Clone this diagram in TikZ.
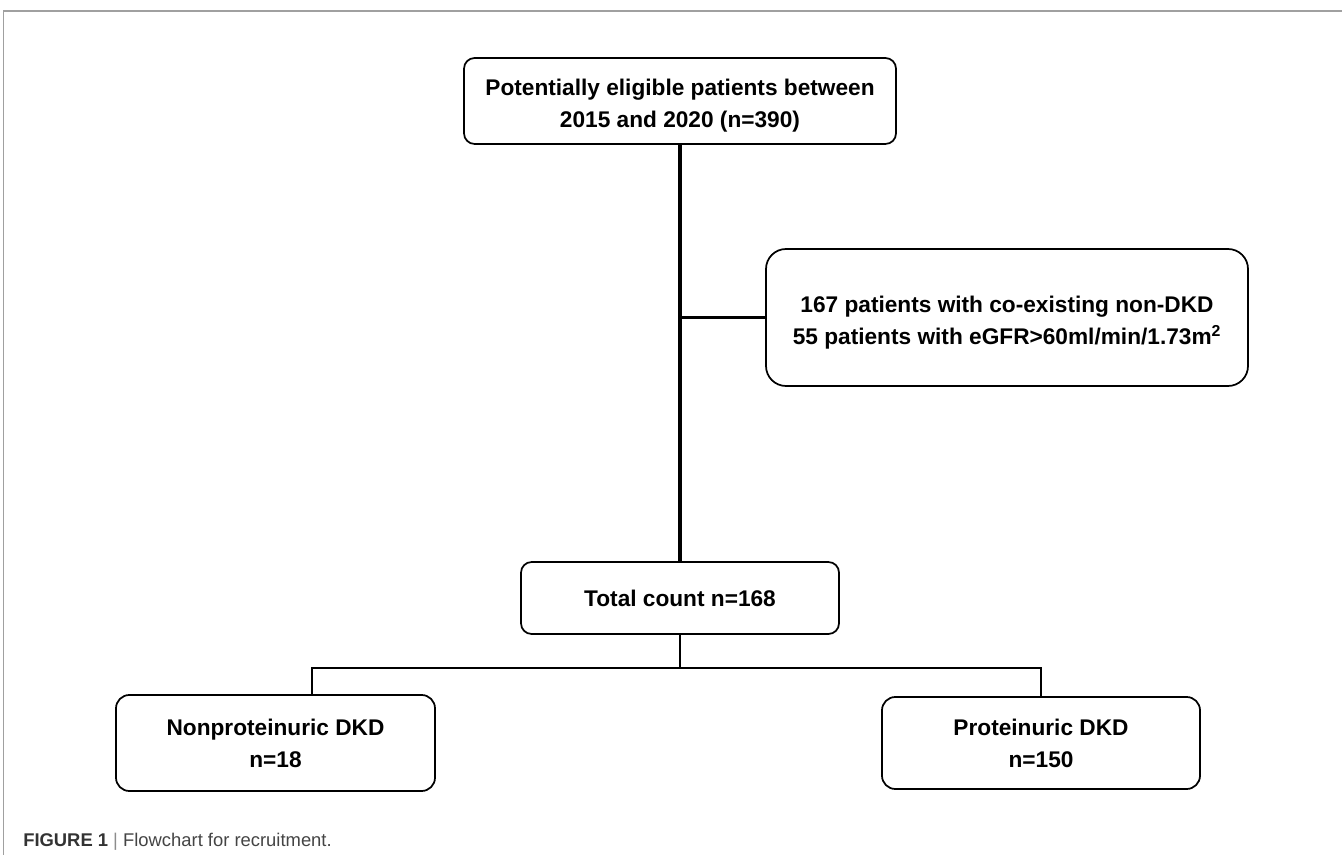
\documentclass[tikz,border=0pt]{standalone}
\usepackage{fontspec}
\setmainfont{Liberation Sans}
\begin{document}
\begin{tikzpicture}[x=0.75pt,y=-0.75pt,
  box/.style={draw=black, line width=1.3pt, rounded corners=#1, align=center,
    font=\fontsize{17}{24}\selectfont\bfseries, inner sep=0pt},
  box/.default=8pt,
  thick line/.style={line width=2.3pt},
  thin line/.style={line width=1.1pt}]
\useasboundingbox (0,0) rectangle (1342,855);
% frame
\draw[color={rgb,255:red,160;green,160;blue,160}, line width=1.1pt] (3.5,855) -- (3.5,11) -- (1342,11);
% boxes
\node[box, minimum width=324pt, minimum height=64.5pt] (top) at (680,101)
  {\rule{0pt}{19pt}Potentially eligible patients between\\2015 and 2020 (n=390)};
\node[box=15pt, minimum width=361.5pt, minimum height=102.75pt] (excl) at (1007,317.5)
  {\rule{0pt}{20pt}167 patients with co-existing non-DKD\\55 patients with eGFR>60ml/min/1.73m\textsuperscript{2}};
\node[box, minimum width=238.5pt, minimum height=54pt] (total) at (680,598)
  {Total count n=168};
\node[box=10pt, minimum width=239.25pt, minimum height=72pt] (left) at (275.5,743)
  {Nonproteinuric DKD\\n=18};
\node[box=10pt, minimum width=238.5pt, minimum height=69pt] (right) at (1041,743)
  {Proteinuric DKD\\n=150};
% connectors
\draw[thick line] (top.south) -- (total.north);
\draw[thick line] (top.south |- excl.west) -- (excl.west);
\coordinate (lj) at (312,695);
\coordinate (split) at (680,668);
\draw[thin line] (total.south) -- (split);
\draw[thin line] (split) -| (lj);
\draw[thin line] (split) -| (right.north);
% caption
\node[anchor=base west, inner sep=0pt, font=\fontsize{13.8}{16}\selectfont] (cap) at (23,846)
  {\textcolor[RGB]{51,51,51}{\bfseries FIGURE 1}\ \textcolor[RGB]{140,140,140}{|}\ \textcolor[RGB]{68,68,68}{Flowchart for recruitment.}};
\end{tikzpicture}
\end{document}
